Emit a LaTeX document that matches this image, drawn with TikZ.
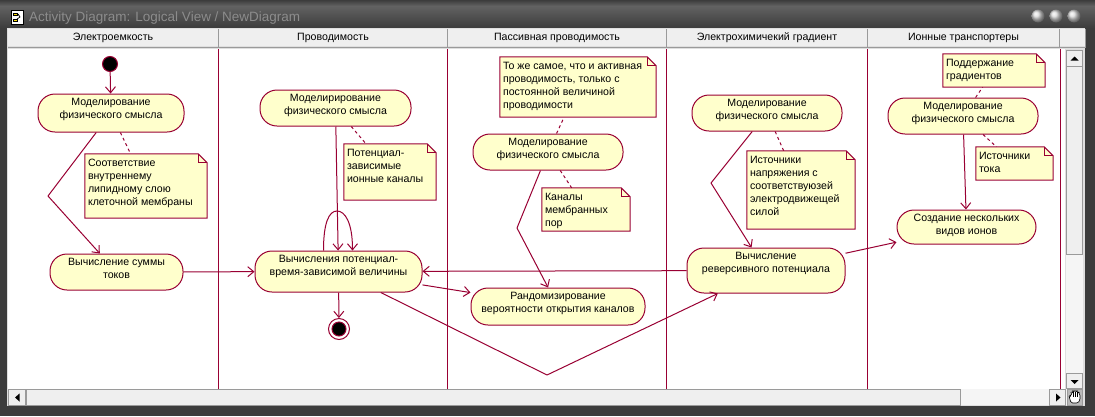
\documentclass[tikz,border=0pt]{standalone}
\usepackage{fontspec}
\setmainfont{Liberation Sans}
\usetikzlibrary{arrows.meta, calc}
\definecolor{roseline}{HTML}{990033}
\definecolor{rosefill}{HTML}{FFFFCC}
\definecolor{framedark}{HTML}{3C3C3C}
\definecolor{framemid}{HTML}{626262}
\definecolor{barface}{HTML}{EFEFEF}
\definecolor{baredge}{HTML}{9A9A9A}
\newcommand{\uitext}{\fontsize{10.6}{13}\selectfont}
\tikzset{
  flow/.style={roseline, line width=1pt, -{Straight Barb[length=6pt,width=10pt]}},
  plainflow/.style={roseline, line width=1pt},
  anchorline/.style={roseline, line width=1pt, dash pattern=on 3pt off 3pt},
  lane/.style={roseline, line width=1pt},
  activity/.style 2 args={draw=roseline, fill=rosefill, line width=1pt, rectangle, rounded corners=17pt, inner sep=0pt,
    execute at begin node={\begin{minipage}[c][#2pt][t]{#1pt}\uitext\centering\rule{0pt}{11.5pt}},
    execute at end node={\end{minipage}}},
  notebox/.style 2 args={fill=rosefill, rectangle, inner sep=0pt,
    execute at begin node={\hspace{3pt}\begin{minipage}[c][#2pt][t]{\dimexpr#1pt-3pt\relax}\uitext\raggedright\rule{0pt}{12.5pt}},
    execute at end node={\end{minipage}}},
  headcell/.style={font=\uitext, inner sep=0pt},
  button/.style={fill=barface, draw=baredge, line width=0.7pt},
}
\begin{document}
\begin{tikzpicture}[x=1pt, y=-1pt]
  \useasboundingbox (0,0) rectangle (1095,416);

  % Window frame
  \fill[framedark] (0,0) rectangle (1095,416);
  \shade[top color=framedark, bottom color=framemid] (0,0) rectangle (1095,6);
  \shade[top color=framemid, bottom color=framedark] (0,6) rectangle (1095,28);
  \node[font=\fontsize{13.5}{15}\selectfont, text=gray!90, anchor=west, inner sep=0pt] (wintitle) at (29,18) {Activity Diagram: Logical View / NewDiagram};

  % Title icon
  \fill[white, draw=black] (11,10) rectangle (23,24);
  \fill[yellow!80!orange, draw=black, line width=0.5pt] (13,13) rectangle (17,15);
  \fill[yellow!80!orange, draw=black, line width=0.5pt] (13,19) rectangle (17,21);
  \draw[black, line width=0.7pt] (18,14) -- (20,17) -- (17,19);

  % Window buttons
  \foreach \x in {1038,1056,1074} {
    \shade[ball color=gray!30] (\x,16) circle (6.5);
  }

  % Panel and drawing area
  \fill[gray!25] (7,28) rectangle (1085,406);
  \fill[white] (8,49) rectangle (1065,389);

  % Column heads
  \foreach \xa/\xb/\hname/\lab in {8/218/headA/Электроемкость, 219/447/headB/Проводимость, 448/666/headC/Пассивная проводимость, 667/867/headD/Электрохимичекий градиент, 868/1059/headE/Ионные транспортеры, 1060/1085/headF/{}} {
    \fill[barface] (\xa,29) rectangle (\xb,46);
    \draw[baredge] (\xb,29) -- (\xb,47) -- (\xa,47);
    \node[headcell] (\hname) at ({(\xa+\xb)/2},38) {\lab};
  }

  % Lane lines
  \foreach \x in {218.5,447.5,666.5,867.5,1060.5} {
    \draw[lane] (\x,49) -- (\x,389);
  }

  % Scroll bars
  \fill[gray!8] (1066,50) rectangle (1083,389);
  \fill[gray!8] (8,389) rectangle (1083,405);
  \draw[button] (1066.5,50.5) rectangle (1082.5,66);
  \draw[button] (1066.5,66.5) rectangle (1082.5,254);
  \draw[button] (1066.5,373) rectangle (1082.5,388.5);
  \draw[button] (8.5,389.5) rectangle (25,405);
  \draw[button] (26,389.5) rectangle (960,405);
  \draw[button] (1049,389.5) rectangle (1065.5,405);
  \fill[gray!55, draw=baredge] (1067,389.5) rectangle (1082.5,405);
  \fill[black] (1070.5,60.5) -- (1078.5,60.5) -- (1074.5,56.5) -- cycle;
  \fill[black] (1070.5,380) -- (1078.5,380) -- (1074.5,384) -- cycle;
  \fill[black] (19.5,393.5) -- (19.5,401.5) -- (15,397.5) -- cycle;
  \fill[black] (1056,393.5) -- (1056,401.5) -- (1060.5,397.5) -- cycle;

  % Hand icon
  \fill[white, draw=black, line width=0.6pt, rounded corners=1.5pt] (1071,403) -- (1069,396) -- (1071,396) -- (1072,392) -- (1074,391) -- (1076,391) -- (1078,392) -- (1080,394) -- (1080,400) -- (1078,403) -- cycle;
  \draw[black, line width=0.5pt] (1073.5,392) -- (1073.5,397) (1075.5,391.5) -- (1075.5,397) (1077.5,392) -- (1077.5,397);

  % Activities
  \node[draw=roseline, fill=black, circle, line width=1pt, minimum size=15pt, inner sep=0pt] (start) at (110,64) {};
  \node[activity={146}{38}] (simA) at (111,113) {Моделирование\\физического смысла};
  \node[activity={133}{36}] (sumI) at (116.5,272) {Вычисление суммы\\токов};
  \node[activity={151}{36}] (simB) at (335.5,108) {Моделирирование\\физического смысла};
  \node[activity={167}{41}] (calc) at (338.5,271.5) {Вычисления потенциал-\\время-зависимой величины};
  \node[draw=roseline, fill=white, circle, line width=1pt, minimum size=21pt, inner sep=0pt] (finish) at (339,329) {};
  \fill[black, draw=roseline, line width=1pt] (finish.center) circle (7);
  \node[activity={150}{36}] (simC) at (548,152) {Моделирование\\физического смысла};
  \node[activity={174}{37}] (rand) at (558,306.5) {Рандомизирование\\вероятности открытия каналов};
  \node[activity={150}{36}] (simD) at (767,113) {Моделирование\\физического смысла};
  \node[activity={158}{45}] (revp) at (766,270.5) {Вычисление\\реверсивного потенциала};
  \node[activity={150}{36}] (simE) at (963,116) {Моделирование\\физического смысла};
  \node[activity={139}{34}] (ions) at (966.5,227) {Создание нескольких\\видов ионов};

  % Notes
  \node[notebox={122}{64}] (noteA) at (146,186) {Соответствие\\внутреннему\\липидному слою\\клеточной мембраны};
  \node[notebox={92}{56}] (noteB) at (390,172) {Потенциал-\\зависимые\\ионные каналы};
  \node[notebox={156}{60}] (noteC) at (578,87) {То же самое, что и активная\\проводимость, только с\\постоянной величиной\\проводимости};
  \node[notebox={88}{43}] (noteD) at (586,209.5) {Каналы\\мембранных\\пор};
  \node[notebox={108}{78}] (noteE) at (801,190) {Источники\\напряжения с\\соответствуюзей\\электродвижещей\\силой};
  \node[notebox={102}{33}] (noteF) at (994,70.5) {Поддержание\\градиентов};
  \node[notebox={77}{33}] (noteG) at (1014.5,163.5) {Источники\\тока};

  % Note outlines
  \foreach \nname in {noteA,noteB,noteC,noteD,noteE,noteF,noteG} {
    \fill[white] ($(\nname.north east)+(-9,0)$) -- (\nname.north east) -- ($(\nname.north east)+(0,9)$) -- cycle;
    \draw[roseline, line width=1pt] (\nname.north west) -- ($(\nname.north east)+(-9,0)$) -- ($(\nname.north east)+(0,9)$) -- (\nname.south east) -- (\nname.south west) -- cycle;
    \draw[roseline, line width=1pt] ($(\nname.north east)+(-9,0)$) -- ($(\nname.north east)+(-9,9)$) -- ($(\nname.north east)+(0,9)$);
  }

  % Bend points
  \coordinate (bendA) at (48,196);
  \coordinate (bendC) at (517,228);
  \coordinate (bendD) at (711,183);
  \coordinate (bendR) at (547,375);

  % Flows
  \draw[flow] (start) -- (simA);
  \draw[plainflow] (simA) -- (bendA);
  \draw[flow] (bendA) -- (sumI);
  \draw[flow] (sumI) -- (calc);
  \draw[flow] (simB) -- (calc);
  \draw[flow] ([xshift=-15pt]calc.north) .. controls +(0,-28) and +(-8,0) .. (337,211) .. controls +(8,0) and +(0,-28) .. ([xshift=14pt]calc.north);
  \draw[flow] (calc) -- (finish);
  \draw[flow] (calc) -- (rand);
  \draw[plainflow] (calc) -- (bendR);
  \draw[flow] (bendR) -- (revp);
  \draw[flow] (revp) -- (calc);
  \draw[plainflow] (simC) -- (bendC);
  \draw[flow] (bendC) -- (rand);
  \draw[plainflow] (simD) -- (bendD);
  \draw[flow] (bendD) -- (revp);
  \draw[flow] (revp) -- (ions);
  \draw[flow] (simE) -- (ions);

  % Note links
  \draw[anchorline] (simA) -- (noteA);
  \draw[anchorline] (simB) -- (noteB);
  \draw[anchorline] (simC) -- (noteC);
  \draw[anchorline] (simC) -- (noteD);
  \draw[anchorline] (simD) -- (noteE);
  \draw[anchorline] (simE) -- (noteF);
  \draw[anchorline] (simE) -- (noteG);
\end{tikzpicture}
\end{document}
